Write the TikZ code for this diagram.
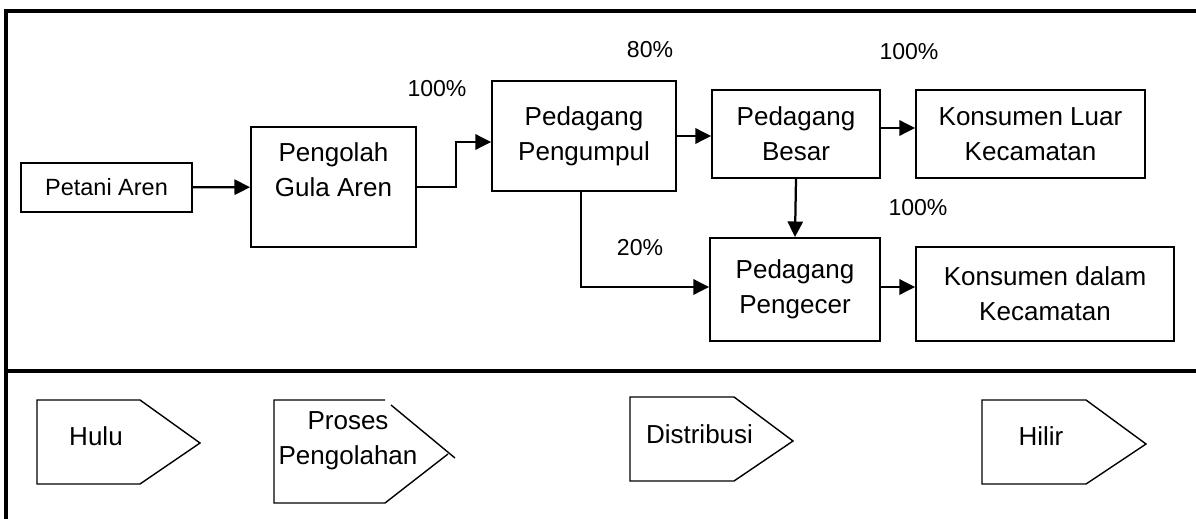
\documentclass[tikz,border=0pt]{standalone}
\usepackage{fontspec}
\setmainfont{Liberation Sans}
\usetikzlibrary{arrows.meta,positioning,calc}

\begin{document}
\begin{tikzpicture}[
    x=0.025cm, y=-0.025cm,
    wh/.style 2 args={minimum width=#1*0.025cm,minimum height=#2*0.025cm},
    box/.style={draw,line width=1.3pt,inner sep=0pt,align=center,
      font=\fontsize{18.5}{25}\selectfont},
    pct/.style={font=\fontsize{16.4}{20}\selectfont},
    tag/.style={font=\fontsize{18.5}{20}\selectfont,align=center},
    arr/.style={-{Triangle[length=3.9mm,width=3.8mm]},line width=1.6pt},
    chev/.style={line width=1pt}
  ]
    \useasboundingbox (0,0) rectangle (1196,519);
    % frame
    \draw[line width=2.3pt] (1196,11) -- (6,11) -- (6,519);
    \draw[line width=2.3pt] (6,371) -- (1196,371);

    % chain
    \node[box,wh={171}{49},font=\fontsize{16.7}{20}\selectfont] (petani) at (106.5,187.5) {Petani Aren};
    \node[box,wh={165}{120}] (pengolah) at (333.5,187) {Pengolah\\Gula Aren\\\mbox{}};
    \node[box,wh={184}{110}] (pengumpul) at (584,136) {Pedagang\\Pengumpul};
    \node[box,wh={168}{88}] (besar) at (796,134) {Pedagang\\Besar};
    \node[box,wh={229}{88}] (luar) at (1030.5,134) {Konsumen Luar\\Kecamatan};
    \node[box,wh={170}{103}] (pengecer) at (795,289.5) {Pedagang\\Pengecer};
    \node[box,wh={258}{94}] (dalam) at (1045,294) {Konsumen dalam\\Kecamatan};

    \draw[arr] (petani) -- (pengolah);
    \draw[arr] (pengolah.east) -- ++(39,0) |- ($(pengumpul.west)+(0,6)$);
    \draw[arr] (pengumpul.east) -- (pengumpul.east -| besar.west);
    \draw[arr] ($(besar.east)+(0,-6)$) -- ($(luar.west)+(0,-6)$);
    \draw[arr] (besar.south) -- (pengecer.north);
    \draw[arr] ($(pengumpul.south)+(-3,0)$) |- ($(pengecer.west)+(0,-2.5)$);
    \draw[arr] ($(pengecer.east)+(0,-2.5)$) -- ($(pengecer.east -| dalam.west)+(0,-2.5)$);

    % shares
    \node[pct] (s1) at (437,89) {100\%};
    \node[pct] (s2) at (650,50) {80\%};
    \node[pct] (s3) at (909,52) {100\%};
    \node[pct] (s4) at (918,208) {100\%};
    \node[pct] (s5) at (640,248) {20\%};

    % stages
    \draw[chev] (37,400) -- (140,400) -- (200,443) -- (140,484) -- (37,484) -- cycle;
    \draw[chev] (385,400) -- (274,400) -- (274,503) -- (385,503) -- (448,454);
    \draw[chev] (391,405) -- (455,458);
    \draw[chev] (630,397) -- (734,397) -- (793,441) -- (734,481) -- (630,481) -- cycle;
    \draw[chev] (982,400) -- (1086,400) -- (1146,444) -- (1086,484) -- (982,484) -- cycle;
    \node[tag] (hulu) at (96,436) {Hulu};
    \node[tag,font=\fontsize{18.5}{25}\selectfont] (proses) at (348,441) {Proses\\Pengolahan};
    \node[tag] (distribusi) at (699.5,434) {Distribusi};
    \node[tag] (hilir) at (1041,436) {Hilir};
  \end{tikzpicture}
\end{document}
